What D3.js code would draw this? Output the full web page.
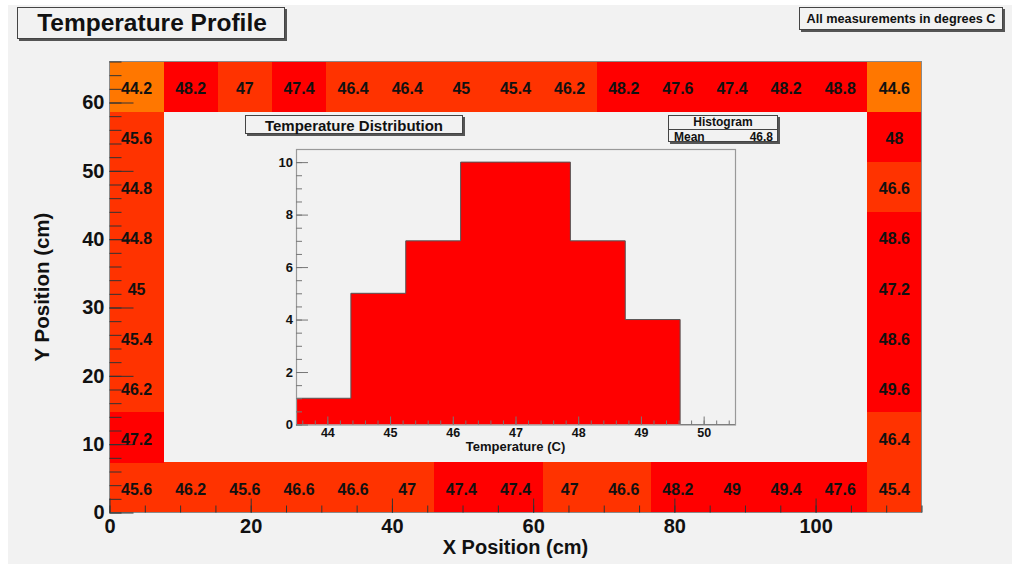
<!DOCTYPE html>
<html>
<head>
<meta charset="utf-8">
<script src="https://cdn.jsdelivr.net/npm/d3@7"></script>
<style>
  body { margin: 0; background: #fff; }
  svg { display: block; font-family: "Liberation Sans", Arial, Helvetica, sans-serif; font-weight: bold; }
</style>
</head>
<body>
<svg id="chart" width="1012" height="565"></svg>
<script>
// ---- readings along the border of the plate (deg C) ----
const topRow    = [44.2, 48.2, 47, 47.4, 46.4, 46.4, 45, 45.4, 46.2, 48.2, 47.6, 47.4, 48.2, 48.8, 44.6];
const bottomRow = [45.6, 46.2, 45.6, 46.6, 46.6, 47, 47.4, 47.4, 47, 46.6, 48.2, 49, 49.4, 47.6, 45.4];
const leftCol   = [45.6, 44.8, 44.8, 45, 45.4, 46.2, 47.2];   // top to bottom, between the corners
const rightCol  = [48, 46.6, 48.6, 47.2, 48.6, 49.6, 46.4];   // top to bottom, between the corners

const xTickLabels = [0, 20, 40, 60, 80, 100];
const yTickLabels = [0, 10, 20, 30, 40, 50, 60];

// ---- temperature distribution histogram ----
const histCounts = [1, 5, 7, 10, 10, 7, 4, 0];
const histXTicks = [44, 45, 46, 47, 48, 49, 50];
const histYTicks = [0, 2, 4, 6, 8, 10];

// axis ranges of the two plots (data units)
const xRange = [0, 115], yRange = [0, 66];
const histRange = [43.5, 50.5];

const svg = d3.select("#chart");
const BG = "#f2f2f2";

svg.append("rect").attr("x", 8).attr("y", 5).attr("width", 1004).attr("height", 559).attr("fill", BG);

// ================= main 2D map =================
const nCols = topRow.length, nRows = leftCol.length + 2;
const x = d3.scaleLinear().domain(xRange).range([109.5, 921.5]);
const y = d3.scaleLinear().domain(yRange).range([512.5, 61.5]);
const cw = (xRange[1] - xRange[0]) / nCols, ch = (yRange[1] - yRange[0]) / nRows;

const cells = [];
topRow.forEach((v, i) => cells.push({ col: i, row: nRows - 1, v }));
bottomRow.forEach((v, i) => cells.push({ col: i, row: 0, v }));
leftCol.forEach((v, i) => cells.push({ col: 0, row: nRows - 2 - i, v }));
rightCol.forEach((v, i) => cells.push({ col: nCols - 1, row: nRows - 2 - i, v }));

const color = d3.scaleThreshold().domain([44.7, 47.1]).range(["#ff7700", "#ff3300", "#ff0000"]);

const gCells = svg.append("g").attr("shape-rendering", "crispEdges");
gCells.selectAll("rect").data(cells).join("rect")
  .attr("x", d => x(d.col * cw))
  .attr("y", d => y((d.row + 1) * ch))
  .attr("width", d => x((d.col + 1) * cw) - x(d.col * cw) + 0.5)
  .attr("height", d => y(d.row * ch) - y((d.row + 1) * ch) + 0.5)
  .attr("fill", d => color(d.v));

// frame
svg.append("rect")
  .attr("x", x(xRange[0])).attr("y", y(yRange[1]))
  .attr("width", x(xRange[1]) - x(xRange[0])).attr("height", y(yRange[0]) - y(yRange[1]))
  .attr("fill", "none").attr("stroke", "#8a8a8a").attr("stroke-width", 1);

function styleAxis(g, tickColor) {
  g.select(".domain").remove();
  g.selectAll(".tick line").attr("stroke", tickColor);
  g.selectAll(".tick text").attr("fill", "#111");
}

// x axis: minor ticks every 5, major every 20
svg.append("g").attr("transform", `translate(0,${y(0)})`)
  .call(d3.axisBottom(x).tickValues(d3.range(xRange[0], xRange[1] + 0.01, 5)).tickSize(-7).tickFormat(""))
  .call(g => styleAxis(g, "#333"));
svg.append("g").attr("transform", `translate(0,${y(0)})`)
  .call(d3.axisBottom(x).tickValues(xTickLabels).tickSize(-14).tickPadding(6).tickFormat(d3.format("d")))
  .call(g => styleAxis(g, "#333"))
  .call(g => g.selectAll(".tick text").attr("font-size", 20).attr("font-family", null));

// y axis: minor ticks every 2, major every 10
svg.append("g").attr("transform", `translate(${x(0)},0)`)
  .call(d3.axisLeft(y).tickValues(d3.range(yRange[0], yRange[1] + 0.01, 2)).tickSize(-12).tickFormat(""))
  .call(g => styleAxis(g, "#333"));
svg.append("g").attr("transform", `translate(${x(0)},0)`)
  .call(d3.axisLeft(y).tickValues(yTickLabels).tickSize(-24).tickPadding(5).tickFormat(d3.format("d")))
  .call(g => styleAxis(g, "#333"))
  .call(g => g.selectAll(".tick text").attr("font-size", 20).attr("font-family", null));

// cell values
svg.append("g").selectAll("text").data(cells).join("text")
  .attr("x", d => x((d.col + 0.5) * cw))
  .attr("y", d => y((d.row + 0.5) * ch))
  .attr("dy", "0.47em")
  .attr("text-anchor", "middle")
  .attr("font-size", 16)
  .attr("fill", "#111")
  .text(d => d3.format("")(d.v));

// axis titles
svg.append("text").attr("x", (x(xRange[0]) + x(xRange[1])) / 2).attr("y", 554)
  .attr("text-anchor", "middle").attr("font-size", 20).attr("fill", "#111")
  .text("X Position (cm)");
svg.append("text").attr("transform", `translate(49,${(y(yRange[0]) + y(yRange[1])) / 2}) rotate(-90)`)
  .attr("text-anchor", "middle").attr("font-size", 20.5).attr("fill", "#111")
  .text("Y Position (cm)");

// ================= paves (boxes with shadow) =================
function pave(x0, y0, x1, y1) {
  const g = svg.append("g");
  g.append("rect").attr("x", x0 + 2).attr("y", y0 + 2).attr("width", x1 - x0).attr("height", y1 - y0).attr("fill", "#555");
  g.append("rect").attr("x", x0 + 0.5).attr("y", y0 + 0.5).attr("width", x1 - x0 - 1).attr("height", y1 - y0 - 1)
    .attr("fill", BG).attr("stroke", "#444").attr("stroke-width", 1);
  return g;
}

pave(17, 7, 285, 39).append("text").attr("x", 152).attr("y", 31)
  .attr("text-anchor", "middle").attr("font-size", 24.5).attr("fill", "#111")
  .text("Temperature Profile");

pave(799, 7, 1003, 30).append("text").attr("x", 901).attr("y", 23)
  .attr("text-anchor", "middle").attr("font-size", 12.7).attr("fill", "#111")
  .text("All measurements in degrees C");

// ================= inset histogram =================
const nb = histCounts.length;
const edges = d3.range(nb + 1).map(i => histRange[0] + i * (histRange[1] - histRange[0]) / nb);
const hx = d3.scaleLinear().domain(histRange).range([296, 735]);
const hy = d3.scaleLinear().domain([0, d3.max(histCounts) * 1.05]).range([424.5, 149]);

const pts = histCounts.map((c, i) => [edges[i], c]).concat([[edges[nb], histCounts[nb - 1]]]);
svg.append("path")
  .attr("d", d3.area().curve(d3.curveStepAfter).x(d => hx(d[0])).y0(hy(0)).y1(d => hy(d[1]))(pts))
  .attr("fill", "#ff0000");
svg.append("path")
  .attr("d", d3.line().curve(d3.curveStepAfter).x(d => hx(d[0])).y(d => hy(d[1]))(pts))
  .attr("fill", "none").attr("stroke", "#555").attr("stroke-width", 1);

svg.append("rect")
  .attr("x", hx.range()[0] + 0.5).attr("y", hy.range()[1] + 0.5)
  .attr("width", hx.range()[1] - hx.range()[0]).attr("height", hy.range()[0] - hy.range()[1])
  .attr("fill", "none").attr("stroke", "#999").attr("stroke-width", 1.2);

// inset x axis
svg.append("g").attr("transform", `translate(0,${hy(0)})`)
  .call(d3.axisBottom(hx).tickValues(d3.range(43.6, 50.45, 0.2)).tickSize(-4).tickFormat(""))
  .call(g => styleAxis(g, "#777"));
svg.append("g").attr("transform", `translate(0,${hy(0)})`)
  .call(d3.axisBottom(hx).tickValues(histXTicks).tickSize(-8).tickPadding(4).tickFormat(d3.format("d")))
  .call(g => styleAxis(g, "#777"))
  .call(g => g.selectAll(".tick text").attr("font-size", 12.5).attr("font-family", null));

// inset y axis
svg.append("g").attr("transform", `translate(${hx.range()[0]},0)`)
  .call(d3.axisLeft(hy).tickValues(d3.range(0, 10.01, 0.5)).tickSize(-6).tickFormat(""))
  .call(g => styleAxis(g, "#777"));
svg.append("g").attr("transform", `translate(${hx.range()[0]},0)`)
  .call(d3.axisLeft(hy).tickValues(histYTicks).tickSize(-12).tickPadding(3).tickFormat(d3.format("d")))
  .call(g => styleAxis(g, "#777"))
  .call(g => g.selectAll(".tick text").attr("font-size", 13).attr("font-family", null));

svg.append("text").attr("x", (hx.range()[0] + hx.range()[1]) / 2).attr("y", 451)
  .attr("text-anchor", "middle").attr("font-size", 13).attr("fill", "#111")
  .text("Temperature (C)");

pave(245, 115, 463, 134).append("text").attr("x", 354).attr("y", 130.5)
  .attr("text-anchor", "middle").attr("font-size", 15).attr("fill", "#111")
  .text("Temperature Distribution");

// statistics box
const allValues = topRow.concat(bottomRow, leftCol, rightCol);
const stats = pave(668, 115, 778, 142);
stats.append("line").attr("x1", 668).attr("x2", 778).attr("y1", 129.5).attr("y2", 129.5).attr("stroke", "#444");
stats.append("text").attr("x", 723).attr("y", 126).attr("text-anchor", "middle")
  .attr("font-size", 12).attr("fill", "#111").text("Histogram");
stats.append("text").attr("x", 674).attr("y", 140.5)
  .attr("font-size", 12).attr("fill", "#111").text("Mean");
stats.append("text").attr("x", 773).attr("y", 140.5).attr("text-anchor", "end")
  .attr("font-size", 12).attr("fill", "#111").text(d3.format(".1f")(d3.mean(allValues)));
</script>
</body>
</html>
